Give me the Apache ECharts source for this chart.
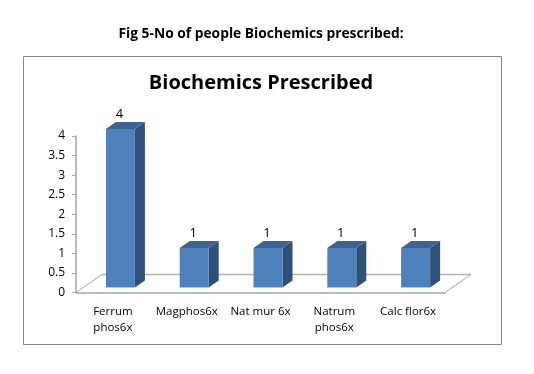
<!DOCTYPE html>
<html>
<head>
<meta charset="utf-8">
<style>
  html, body { margin: 0; padding: 0; background: #fff; }
  #chart { width: 534px; height: 374px; }
</style>
<script src="https://cdn.jsdelivr.net/npm/echarts@6/dist/echarts.min.js"></script>
</head>
<body>
<div id="chart"></div>
<script>
const categories = ['Ferrum\nphos6x', 'Magphos6x', 'Nat mur 6x', 'Natrum\nphos6x', 'Calc flor6x'];
const patients = [4, 1, 1, 1, 1];
const yTicks = { min: 0, max: 4, interval: 0.5 };

const fontFamily = '"Open Sans", "Noto Sans", sans-serif';
const depthX = 10;
const depthY = 7;
const floorX = 26;
const floorY = 18;
const barLift = 5;
const barShift = 7.5;
const barHalf = 14.5;
const barStretch = 1.012;

const chart = echarts.init(document.getElementById('chart'));

// 3d look is done by hand, echarts has no plain 3d bar
function renderBar(params, api) {
  const zero = api.coord([api.value(0), 0]);
  const x = zero[0] + barShift;
  const base = zero[1] - barLift;
  const top = base - (zero[1] - api.coord([api.value(0), api.value(1)])[1]) * barStretch;
  const l = x - barHalf;
  const r = x + barHalf;
  return {
    type: 'group',
    children: [
      { type: 'polygon', shape: { points: [[r, top], [r + depthX, top - depthY], [r + depthX, base - depthY], [r, base]] }, style: { fill: '#2f5078' } },
      { type: 'polygon', shape: { points: [[l, top], [l + depthX, top - depthY], [r + depthX, top - depthY], [r, top]] }, style: { fill: '#3d6594' } },
      { type: 'rect', shape: { x: l, y: top, width: r - l, height: base - top }, style: { fill: '#4f81bd' } },
      { type: 'line', shape: { x1: l, y1: base, x2: r, y2: base }, style: { stroke: '#a9c4e4', lineWidth: 1 } },
      { type: 'text', style: { text: String(api.value(1)), x: x - 1, y: top - depthY - 7.5, align: 'center', verticalAlign: 'middle', font: '13px ' + fontFamily, fill: '#000' } }
    ]
  };
}

// back wall floor of the 3d plot
function renderFloor(params, api) {
  const band = api.size([1, 0])[0];
  const zero = api.coord([0, 0]);
  const left = zero[0] - band / 2;
  const right = left + band * categories.length;
  const y = zero[1];
  return {
    type: 'group',
    children: [
      { type: 'line', shape: { x1: left, y1: y, x2: left + floorX, y2: y - floorY }, style: { stroke: '#a6a6a6', lineWidth: 1 } },
      { type: 'line', shape: { x1: left + floorX, y1: y - floorY, x2: right + floorX, y2: y - floorY }, style: { stroke: '#b4b4b4', lineWidth: 1.5 } },
      { type: 'line', shape: { x1: right, y1: y, x2: right + floorX, y2: y - floorY }, style: { stroke: '#a6a6a6', lineWidth: 1 } }
    ]
  };
}

chart.setOption({
  animation: false,
  backgroundColor: '#fff',
  title: [
    {
      text: 'Fig 5-No of people Biochemics prescribed:',
      left: 256, top: 22, textAlign: 'center',
      textStyle: { fontFamily, fontSize: 13.8, fontWeight: 'bold', color: '#000' }
    },
    {
      text: 'Biochemics Prescribed',
      left: 256, top: 68, textAlign: 'center',
      textStyle: { fontFamily, fontSize: 20, fontWeight: 'bold', color: '#000' }
    }
  ],
  graphic: [
    { type: 'rect', z: -1, shape: { x: 23.5, y: 56.5, width: 478, height: 288 }, style: { fill: 'none', stroke: '#868686', lineWidth: 1 } }
  ],
  grid: { left: 76, right: 89, top: 136, height: 156.5 },
  xAxis: {
    type: 'category',
    data: categories,
    axisLine: { lineStyle: { color: '#a6a6a6', width: 1.5 } },
    axisTick: { alignWithLabel: false, length: 4, lineStyle: { color: '#a6a6a6' } },
    axisLabel: { color: '#000', fontFamily, fontSize: 11.5, lineHeight: 16, margin: 11, interval: 0 }
  },
  yAxis: {
    type: 'value',
    min: yTicks.min,
    max: yTicks.max,
    interval: yTicks.interval,
    axisLine: { show: true, lineStyle: { color: '#a6a6a6', width: 1.5 } },
    axisTick: { show: true, length: 4, lineStyle: { color: '#a6a6a6' } },
    axisLabel: { color: '#000', fontFamily, fontSize: 12, margin: 11 },
    splitLine: { show: false }
  },
  series: [
    { type: 'custom', renderItem: renderFloor, data: [0], silent: true, z: 1, clip: false },
    {
      type: 'custom',
      renderItem: renderBar,
      data: patients.map((v, i) => [i, v]),
      encode: { x: 0, y: 1 },
      z: 2,
      clip: false
    }
  ]
});

window.addEventListener('resize', () => chart.resize());
</script>
</body>
</html>
